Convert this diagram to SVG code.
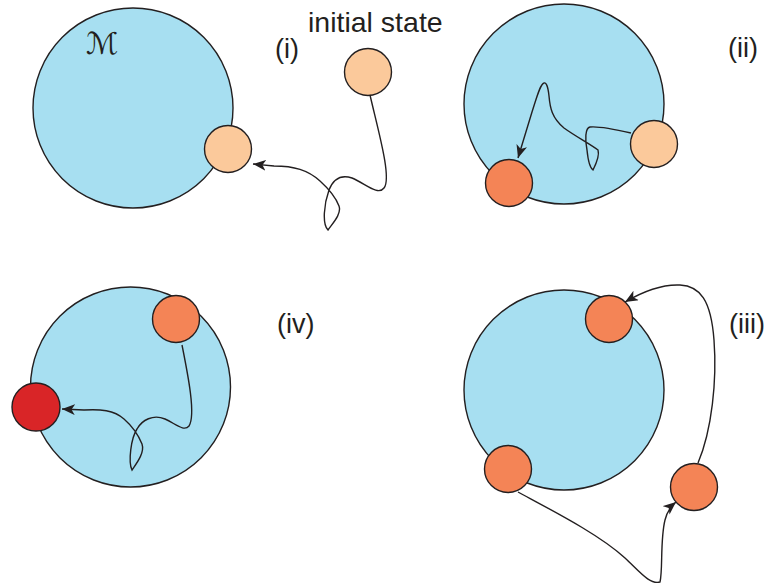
<svg xmlns="http://www.w3.org/2000/svg" width="769" height="588" viewBox="0 0 769 588">
<style>
.big{fill:#a7dff1;stroke:#231f20;stroke-width:1.4}
.lo{fill:#fbc99b;stroke:#231f20;stroke-width:1.4}
.or{fill:#f48456;stroke:#231f20;stroke-width:1.4}
.rd{fill:#d92527;stroke:#231f20;stroke-width:1.4}
.lbl{font-family:"Liberation Sans",Arial,sans-serif;font-size:27px;fill:#231f20}
.c{fill:none;stroke:#231f20;stroke-width:1.4;marker-end:url(#ah)}
</style>
<defs>
<marker id="ah" markerUnits="userSpaceOnUse" markerWidth="15" markerHeight="12" refX="13" refY="5.5" orient="auto">
<path d="M0,0 L13,5.5 L0,11 L3.5,5.5 z" fill="#231f20"/>
</marker>
</defs>
<g id="panel-i">
<circle id="M-i" class="big" cx="133" cy="108" r="100"/>
<text x="86" y="54" style="font-family:'DejaVu Serif','DejaVu Sans',serif;font-size:30px;fill:#231f20">ℳ</text>
<circle id="node-i-target" class="lo" cx="228" cy="149" r="23.5"/>
<circle id="node-initial" class="lo" cx="368" cy="72" r="23.5"/>
<text class="lbl" x="308" y="32" style="font-size:28.5px">initial state</text>
<text class="lbl" x="275" y="58">(i)</text>
</g>
<g id="panel-ii">
<circle id="M-ii" class="big" cx="564" cy="104" r="100"/>
<circle id="node-ii-start" class="lo" cx="654" cy="144" r="23.5"/>
<circle id="node-ii-end" class="or" cx="509" cy="183" r="23.5"/>
<text class="lbl" x="728" y="57">(ii)</text>
</g>
<g id="panel-iv">
<circle id="M-iv" class="big" cx="130.5" cy="387" r="100"/>
<circle id="node-iv-start" class="or" cx="176" cy="319" r="23.5"/>
<circle id="node-iv-end" class="rd" cx="36" cy="407" r="24"/>
<text class="lbl" x="277" y="333">(iv)</text>
</g>
<g id="panel-iii">
<circle id="M-iii" class="big" cx="564" cy="390" r="100"/>
<circle id="node-iii-top" class="or" cx="609" cy="319" r="23.5"/>
<circle id="node-iii-left" class="or" cx="508" cy="469" r="23.5"/>
<circle id="node-iii-right" class="or" cx="694" cy="487" r="23.5"/>
<text class="lbl" x="729" y="333">(iii)</text>
</g>
<g id="connectors">
<path class="c" d="M370 95 C378 130,392 178,384 188 C378 196,366 184,352 178 C340 174,333 180,329 190 C324 204,322 224,328 230 C332 224,342 214,339 206 C336 198,330 190,320 181 C308 170,294 166,274 166 L253 164"/>
<path class="c" d="M631 133 C618 130,600 126,590 127 C585 128,585 140,587 150 C588 160,590 168,593 170 C596 164,600 156,598 150 C590 144,575 136,564 128 C552 118,550 108,549 96 C548 86,546 82,544 83 C540 84,536 100,532 112 L518 158"/>
<path class="c" d="M182 345 C188 375,196 415,189 426 C184 432,176 424,165 419 C153 414,142 420,137 429 C131 438,128 462,132 470 C136 464,145 453,142 444 C138 434,132 426,124 419 C114 410,100 409,84 410 L62 409"/>
<path class="c" d="M698 463 C712 430,717 380,714 340 C711 300,700 286,680 285 C660 284,642 292,625 302"/>
<path class="c" d="M518 492 C555 512,600 535,625 558 C640 572,650 585,660 582 C663 570,660 540,665 520 C667 512,670 507,676 502"/>
</g>
</svg>
